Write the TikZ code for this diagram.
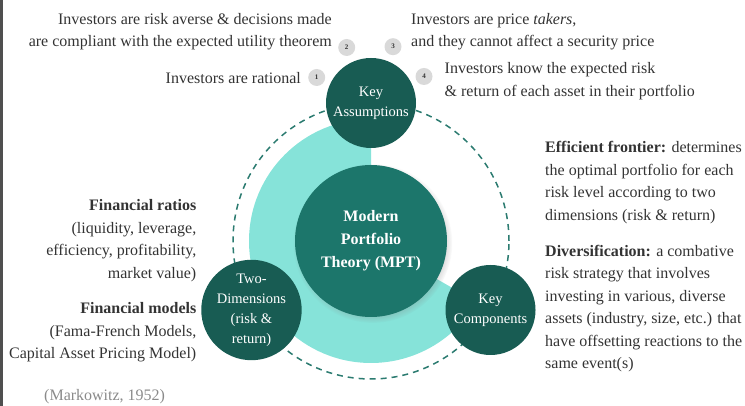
\documentclass[tikz,border=0pt]{standalone}
\usepackage{fontspec}
\setmainfont{LiberationSerif}[Extension=.ttf,UprightFont=*-Regular,BoldFont=*-Bold,
 ItalicFont=*-Italic,BoldItalicFont=*-BoldItalic]
\usetikzlibrary{calc,shadows}

\definecolor{darkteal}{HTML}{185C53}
\definecolor{midteal}{HTML}{1C766B}
\definecolor{lightteal}{HTML}{86E3D9}
\definecolor{ringteal}{HTML}{2B7B70}
\definecolor{badgegray}{HTML}{D9D9D9}
\definecolor{textgray}{HTML}{333333}
\definecolor{citegray}{HTML}{8A8A8A}
\definecolor{edgegray}{HTML}{4F4F4F}

\tikzset{
 keycircle/.style={circle,fill=darkteal,text=white,minimum size=90pt,inner sep=0pt,
  align=center,font=\fontsize{14.5}{20}\selectfont},
 mptcircle/.style={circle,fill=midteal,text=white,minimum size=152pt,inner sep=0pt,
  align=center,font=\fontsize{16}{23}\selectfont\bfseries,
  circular drop shadow={shadow xshift=1.5pt,shadow yshift=-2pt,shadow scale=1.05,opacity=.45}},
 badge/.style={circle,fill=badgegray,minimum size=17pt,inner sep=0pt,
  font=\fontsize{7}{7}\selectfont\bfseries,text=textgray},
 note/.style={inner sep=0pt,text=textgray,font=\fontsize{16}{22.5}\selectfont},
}

\begin{document}
\begin{tikzpicture}[x=1pt,y=1pt]
\useasboundingbox (0,0) rectangle (745,406);
\fill[edgegray] (0,0) rectangle (3,406);
\coordinate (C) at (371,165);
\fill[lightteal] (C) -- ++(90:122) arc[start angle=90,end angle=330,radius=122] -- cycle;
\draw[ringteal,line width=1.5pt,dash pattern=on 6pt off 5pt] (C) circle[radius=138];
\node[mptcircle] (mpt) at (C) {Modern\\Portfolio\\Theory (MPT)};
\node[keycircle] (assume) at ($(C)+(90:138)$) {Key\\Assumptions};
\node[keycircle] (dims) at ($(C)+(210:138)$) {Two-\\Dimensions\\(risk \&\\return)};
\node[keycircle] (parts) at ($(C)+(330:138)$) {Key\\Components};

\foreach \n/\x/\y in {1/316.7/328.5,2/346.7/358.5,3/393/359.3,4/424/329.5}
 {\node[badge] (b\n) at (\x,\y) {\n};}

\node[note,anchor=east,align=right] (averse) at (332,374.5)
 {Investors are risk averse \& decisions made\\are compliant with the expected utility theorem};
\node[note,anchor=east] (rational) at (301,328) {Investors are rational};
\node[note,anchor=west,align=left] (takers) at (411,374.5)
 {Investors are price \textit{takers},\\and they cannot affect a security price};
\node[note,anchor=west,align=left] (know) at (444.5,325)
 {Investors know the expected risk\\\& return of each asset in their portfolio};

\node[note,anchor=west,align=left] (frontier) at (545,223.5)
 {\textbf{Efficient frontier:} determines\\the optimal portfolio for each\\risk level according to two\\dimensions (risk \& return)};
\node[note,anchor=west,align=left] (divers) at (545,97.5)
 {\textbf{Diversification:} a combative\\risk strategy that involves\\investing in various, diverse\\assets (industry, size, etc.) that\\have offsetting reactions to the\\same event(s)};

\node[note,anchor=east,align=right] (ratios) at (196.5,165.5)
 {\textbf{Financial ratios}\\(liquidity, leverage,\\efficiency, profitability,\\market value)};
\node[note,anchor=east,align=right] (models) at (196.5,73.5)
 {\textbf{Financial models}\\(Fama-French Models,\\Capital Asset Pricing Model)};

\node[note,anchor=west,text=citegray] (cite) at (44,9) {(Markowitz, 1952)};
\end{tikzpicture}
\end{document}
